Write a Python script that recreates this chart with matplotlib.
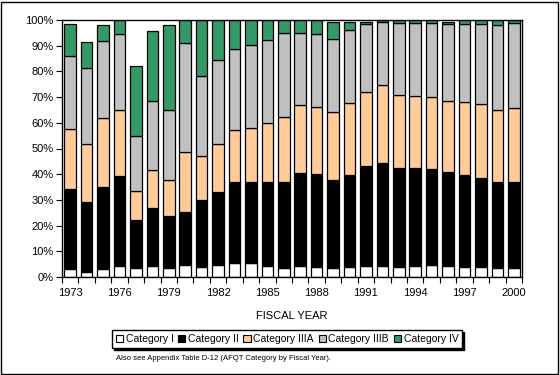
import numpy as np
import matplotlib
matplotlib.use("Agg")
import matplotlib.pyplot as plt
from matplotlib.patches import Rectangle

plt.rcParams['font.family'] = ['Liberation Sans', 'DejaVu Sans']

years = list(range(1973, 2001))

# percent share of each AFQT category by fiscal year
cat_i = [3.3, 2.1, 3.3, 4.4, 3.6, 4.4, 3.6, 4.7, 4.0, 4.7, 5.5, 5.5, 4.4, 3.6,
         4.4, 4.0, 3.6, 4.0, 4.4, 4.4, 4.0, 4.4, 4.8, 4.4, 4.0, 4.0, 3.6, 3.6]
cat_ii = [31.0, 27.0, 31.8, 35.0, 18.6, 22.4, 20.2, 20.7, 26.0, 28.5, 31.3, 31.3, 32.4, 33.5,
          36.2, 36.2, 34.2, 35.8, 38.9, 40.1, 38.5, 38.1, 37.3, 36.6, 35.8, 34.6, 33.5, 33.5]
cat_iiia = [23.3, 22.7, 26.8, 25.6, 11.1, 14.8, 13.9, 23.2, 17.1, 18.6, 20.4, 21.2, 23.1, 25.2,
            26.4, 26.0, 26.4, 28.0, 28.7, 30.3, 28.4, 28.0, 28.0, 27.5, 28.3, 28.8, 27.9, 28.7]
cat_iiib = [28.4, 29.6, 29.9, 29.7, 21.6, 26.9, 27.3, 42.6, 31.2, 32.7, 31.6, 32.4, 32.4, 32.8,
            28.1, 28.5, 28.5, 28.4, 26.6, 24.5, 28.1, 28.5, 28.9, 30.1, 30.5, 31.2, 33.2, 33.2]
cat_iv = [12.6, 10.1, 6.4, 5.3, 27.3, 27.3, 33.2, 8.8, 21.7, 15.5, 11.2, 9.6, 7.7, 4.9,
          4.9, 5.3, 6.6, 3.1, 0.7, 0.6, 1.0, 1.0, 1.0, 0.7, 1.4, 1.4, 1.8, 1.0]

labels = ['Category I', 'Category II', 'Category IIIA', 'Category IIIB', 'Category IV']
colors = ['#FFFFFF', '#000000', '#FFCC99', '#C0C0C0', '#339966']
series = [cat_i, cat_ii, cat_iiia, cat_iiib, cat_iv]

fig = plt.figure(figsize=(5.6, 3.75), dpi=100)
ax = fig.add_axes([62 / 560, 1 - 277 / 375, 460 / 560, 257 / 375])

x = np.arange(len(years))
bottom = np.zeros(len(years))
for vals, lab, col in zip(series, labels, colors):
    ax.bar(x, vals, 0.7, bottom=bottom, color=col, edgecolor='black',
           linewidth=0.9, label=lab)
    bottom += np.array(vals)

ax.set_xlim(-0.5, len(years) - 0.5)
ax.set_ylim(0, 100)
ax.set_yticks(range(0, 101, 10))
ax.set_yticklabels([f'{v}%' for v in range(0, 101, 10)], fontsize=8)

ax.set_xticks(np.arange(-0.5, len(years), 1.0))
ax.set_xticklabels([])
ax.set_xticks(x[::3], minor=True)
ax.set_xticklabels([str(y) for y in years[::3]], minor=True, fontsize=8)
ax.tick_params(axis='x', which='minor', length=0, pad=8)
ax.tick_params(axis='x', which='major', length=4, direction='out', width=0.8)
ax.tick_params(axis='y', length=4, direction='out', width=0.8, pad=2)
for sp in ax.spines.values():
    sp.set_linewidth(1.0)

ax.set_xlabel('FISCAL YEAR', fontsize=8, labelpad=9)

leg = ax.legend(loc='center', bbox_to_anchor=(287 / 560, 1 - 339 / 375),
                bbox_transform=fig.transFigure, ncol=5, fontsize=7.5,
                frameon=True, fancybox=False,
                shadow={'color': 'black', 'alpha': 1, 'ox': 1.5, 'oy': -1.5},
                handlelength=0.7, handleheight=0.7, handletextpad=0.25,
                columnspacing=0.45, borderpad=0.35, borderaxespad=0)
leg.get_frame().set_edgecolor('black')
leg.get_frame().set_linewidth(1.0)
for h in leg.legend_handles:
    h.set_linewidth(0.8)

fig.text(116 / 560, 1 - 359 / 375, 'Also see Appendix Table D-12 (AFQT Category by Fiscal Year).',
         fontsize=5.5, ha='left', va='center')

fig.patches.append(Rectangle((0.5 / 560, 1.5 / 375), 557.5 / 560, 372 / 375,
                             transform=fig.transFigure, fill=False,
                             edgecolor='black', linewidth=1.0))

fig.savefig('out.png', dpi=100)
